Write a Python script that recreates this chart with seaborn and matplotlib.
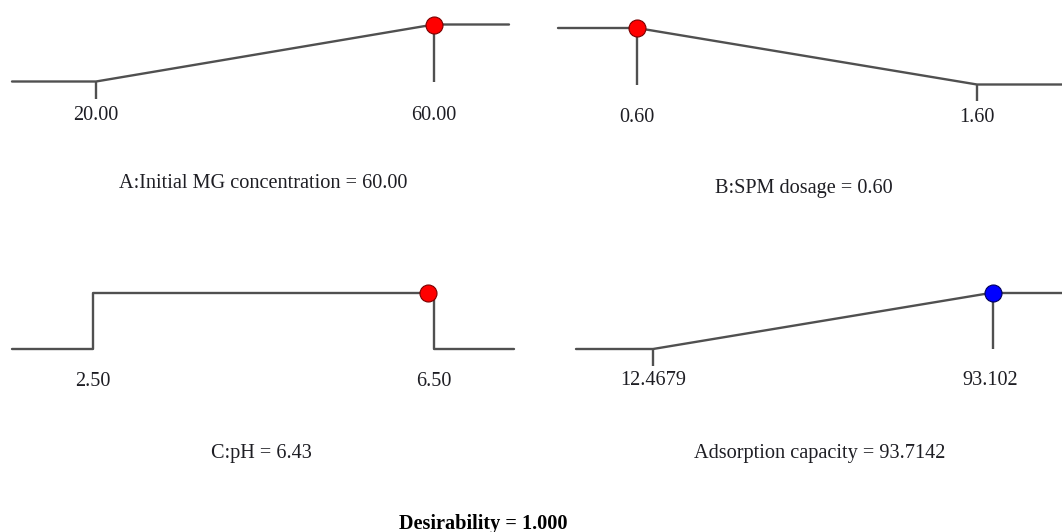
import matplotlib
matplotlib.use("Agg")
import matplotlib.pyplot as plt
import seaborn as sns

# Factor / response settings of the optimisation
names = ["A:Initial MG concentration", "B:SPM dosage", "C:pH", "Adsorption capacity"]
lows = [20.00, 0.60, 2.50, 12.4679]
highs = [60.00, 1.60, 6.50, 93.102]
current = [60.00, 0.60, 6.43, 93.7142]
low_fmt = ["20.00", "0.60", "2.50", "12.4679"]
high_fmt = ["60.00", "1.60", "6.50", "93.102"]
value_fmt = ["60.00", "0.60", "6.43", "93.7142"]
goals = ["maximize", "minimize", "in range", "maximize"]
dot_colors = ["#ff0000", "#ff0000", "#ff0000", "#0000ff"]
dot_edges = ["#7a0000", "#7a0000", "#7a0000", "#00005a"]
desirability = 1.000

sns.set_theme(style="white")
plt.rcParams["font.family"] = ["Liberation Serif", "DejaVu Serif"]

W, H = 1062, 532
fig = plt.figure(figsize=(W / 100, H / 100), dpi=100)
fig.patch.set_facecolor("white")

# Panel layout in figure pixels: line ends, low/high anchors, levels, label rows, title centre
layout = [
    dict(l=12, r=509, xl=96, xh=434, top=24.5, bot=81.5, lab=115, tx=263, ty=183.5),
    dict(l=558, r=1062, xl=637, xh=977, top=28, bot=84.5, lab=118, tx=804, ty=189),
    dict(l=12, r=514, xl=93, xh=434, top=293, bot=349, lab=381.5, tx=261.5, ty=453.5),
    dict(l=576, r=1062, xl=653, xh=990.5, top=293, bot=349, lab=380.5, tx=820, ty=453.5),
]

LINE = "#505050"
TXT = "#1e1e24"
FS = 14.6
TICK_DROP = 0.3

def desir(goal, lo, hi, v):
    if goal == "maximize":
        return min(max((v - lo) / (hi - lo), 0), 1)
    if goal == "minimize":
        return min(max((hi - v) / (hi - lo), 0), 1)
    return 1.0 if lo <= v <= hi else 0.0

for i in range(4):
    L = layout[i]
    ax = fig.add_axes([L["l"] / W, 1 - L["bot"] / H,
                       (L["r"] - L["l"]) / W, (L["bot"] - L["top"]) / H])
    lo, hi, v, goal = lows[i], highs[i], current[i], goals[i]
    scale = (L["xh"] - L["xl"]) / (hi - lo)
    x0 = lo - (L["xl"] - L["l"]) / scale
    x1 = hi + (L["r"] - L["xh"]) / scale
    ax.set_xlim(x0, x1)
    ax.set_ylim(0, 1)
    ax.axis("off")

    if goal == "maximize":
        xs, ys = [x0, lo, hi, x1], [0, 0, 1, 1]
        tick_x = lo
    elif goal == "minimize":
        xs, ys = [x0, lo, hi, x1], [1, 1, 0, 0]
        tick_x = hi
    else:
        xs, ys = [x0, lo, lo, hi, hi, x1], [0, 0, 1, 1, 0, 0]
        tick_x = None

    sns.lineplot(x=xs, y=ys, estimator=None, sort=False, ax=ax,
                 color=LINE, linewidth=1.7, clip_on=False)
    if tick_x is not None:
        ax.plot([tick_x, tick_x], [0, -TICK_DROP], color=LINE, lw=1.7,
                clip_on=False, solid_capstyle="butt")
        ax.plot([v, v], [0, desir(goal, lo, hi, v)], color=LINE, lw=1.7,
                clip_on=False, solid_capstyle="butt")

    d = desir(goal, lo, hi, v)
    sns.scatterplot(x=[v], y=[d], ax=ax, s=150, color=dot_colors[i],
                    edgecolor=dot_edges[i], linewidth=0.8, zorder=5, clip_on=False)

    off = L["lab"] - L["bot"]
    for val, txt in ((lo, low_fmt[i]), (hi, high_fmt[i])):
        ax.annotate(txt, xy=(val, 0), xycoords="data", xytext=(0, -off),
                    textcoords="offset pixels", ha="center", va="center",
                    fontsize=FS, color=TXT, annotation_clip=False)

    fig.text(L["tx"] / W, 1 - L["ty"] / H, f"{names[i]} = {value_fmt[i]}",
             ha="center", va="center", fontsize=FS, color=TXT)

fig.text(483 / W, 1 - 523.5 / H, f"Desirability = {desirability:.3f}",
         ha="center", va="center", fontsize=FS, fontweight="bold", color="#000000")

fig.savefig("out.png", dpi=100, facecolor="white")
